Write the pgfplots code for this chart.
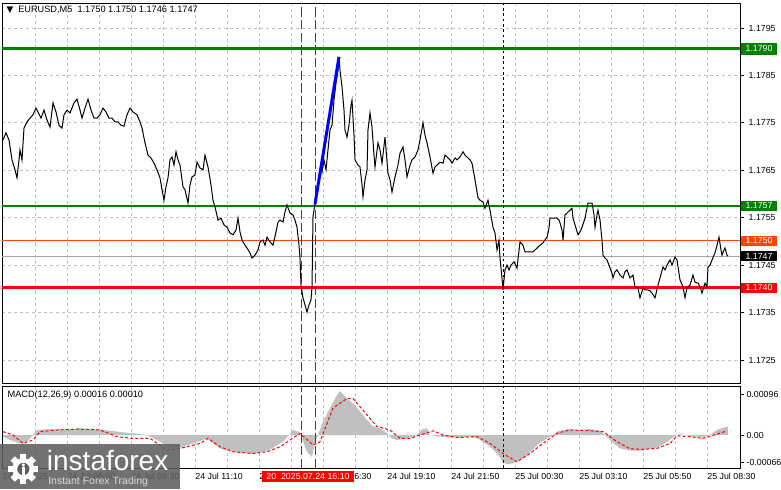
\documentclass[border=0pt]{standalone}
\usepackage{fontspec}
\setmainfont{Liberation Sans}
\newfontfamily\dejavu{DejaVu Sans}
\usepackage{pgfplots}
\pgfplotsset{compat=1.18}
\definecolor{mtgreen}{RGB}{0,128,0}
\definecolor{mtorange}{RGB}{255,69,0}
\definecolor{gridgray}{RGB}{192,192,192}
\definecolor{histgray}{RGB}{192,192,192}
\definecolor{logogray}{RGB}{95,95,95}
\newcommand{\sm}{\fontsize{6.6}{7.5}\selectfont}
\pgfplotsset{
  mtaxis/.style={
    scale only axis, width=553.5pt, xmin=2, xmax=740, anchor=south west,
    axis line style={black, line width=0.75pt},
    tick style={black, line width=0.6pt},
    xtick={35.7,67.7,99.7,131.7,163.7,195.7,227.7,259.7,291.7,323.7,355.7,387.7,419.7,451.7,483.7,515.7,547.7,579.7,611.7,643.7,675.7,707.7},
    xticklabels={}, xtick style={draw=none},
    ytick pos=right, yticklabel pos=right, tick align=outside, major tick length=3pt,
    ticklabel style={font=\sm},
    scaled y ticks=false, clip mode=individual,
  }
}
\begin{document}
\begin{tikzpicture}
\path[use as bounding box, fill=white] (0,0) rectangle (585.75pt,366.75pt);
% ---------------- main price panel
\begin{axis}[mtaxis, at={(1.5pt,78.75pt)}, height=285.75pt,
  ymin=1.171994, ymax=1.180027,
  ytick={1.1725,1.1735,1.1745,1.1755,1.1765,1.1775,1.1785,1.1795},
  yticklabels={1.1725,1.1735,1.1745,1.1755,1.1765,1.1775,1.1785,1.1795},
  grid=major, grid style={gridgray, line width=0.6pt, dash pattern=on 2.25pt off 2.25pt},
]
% level lines
\addplot[mtgreen, line width=2.4pt] coordinates {(2,1.17906)(740,1.17906)};
\addplot[mtgreen, line width=1.8pt] coordinates {(2,1.17575)(740,1.17575)};
\addplot[gray!70, line width=0.75pt] coordinates {(2,1.17469)(740,1.17469)};
\addplot[mtorange, line width=0.75pt] coordinates {(2,1.17501)(740,1.17501)};
\addplot[red, line width=2.25pt] coordinates {(2,1.17402)(740,1.17402)};
% vertical markers
\addplot[red!85!black, line width=0.75pt, dash pattern=on 7pt off 2.5pt] coordinates {(301,1.171994)(301,1.180027)};
\addplot[red!85!black, line width=0.75pt, dash pattern=on 7pt off 2.5pt] coordinates {(315,1.171994)(315,1.180027)};
\addplot[black, line width=0.75pt, dash pattern=on 2pt off 2pt] coordinates {(503,1.171994)(503,1.180027)};
% price
\addplot[black, line width=0.75pt] coordinates {
(3,1.17714)(6,1.17729)(9,1.17714)(12,1.17672)(15,1.17651)(17,1.17634)(19,1.17672)(20,1.17693)(22,1.17672)(24,1.17739)(27,1.17752)(30,1.17760)(33,1.17767)(36,1.17781)(38,1.17773)(41,1.17760)(44,1.17777)(47,1.17756)(50,1.17741)(53,1.17792)(56,1.17773)(59,1.17745)(62,1.17739)(64,1.17767)(67,1.17777)(70,1.17771)(74,1.17792)(77,1.17800)(80,1.17777)(82,1.17760)(85,1.17781)(88,1.17800)(91,1.17777)(94,1.17760)(97,1.17760)(100,1.17767)(103,1.17781)(106,1.17773)(109,1.17760)(112,1.17760)(115,1.17752)(118,1.17752)(121,1.17745)(124,1.17743)(127,1.17767)(130,1.17781)(133,1.17773)(137,1.17767)(140,1.17752)(142,1.17739)(145,1.17708)(148,1.17682)(151,1.17676)(154,1.17665)(157,1.17651)(160,1.17634)(162,1.17609)(164,1.17587)(166,1.17615)(168,1.17634)(170,1.17672)(172,1.17678)(174,1.17661)(176,1.17689)(178,1.17672)(180,1.17661)(183,1.17615)(185,1.17609)(188,1.17581)(190,1.17619)(192,1.17636)(195,1.17640)(197,1.17667)(200,1.17655)(203,1.17651)(205,1.17682)(208,1.17657)(211,1.17619)(213,1.17587)(215,1.17573)(218,1.17545)(221,1.17549)(224,1.17535)(227,1.17530)(230,1.17518)(233,1.17514)(236,1.17524)(238,1.17549)(240,1.17520)(242,1.17503)(245,1.17492)(247,1.17486)(250,1.17476)(252,1.17465)(255,1.17471)(258,1.17482)(260,1.17499)(263,1.17503)(265,1.17492)(267,1.17509)(270,1.17499)(273,1.17492)(276,1.17520)(278,1.17541)(280,1.17545)(283,1.17541)(285,1.17562)(287,1.17577)(290,1.17560)(293,1.17556)(295,1.17545)(297,1.17530)(299,1.17492)(300,1.17465)(301,1.17408)(303,1.17381)(305,1.17366)(307,1.17351)(309,1.17366)(311,1.17377)(312,1.17404)(313,1.17552)(315,1.17581)(317,1.17598)(319,1.17630)(321,1.17661)(322,1.17646)(324,1.17672)(326,1.17651)(328,1.17693)(330,1.17735)(332,1.17745)(334,1.17798)(336,1.17834)(338,1.17861)(339,1.17889)(340,1.17861)(342,1.17826)(344,1.17777)(345,1.17735)(347,1.17720)(349,1.17745)(351,1.17787)(352,1.17798)(354,1.17724)(355,1.17672)(358,1.17661)(360,1.17657)(362,1.17619)(363,1.17594)(365,1.17630)(367,1.17651)(368,1.17735)(370,1.17771)(372,1.17741)(374,1.17682)(375,1.17657)(378,1.17708)(380,1.17693)(382,1.17665)(385,1.17720)(388,1.17644)(390,1.17630)(392,1.17604)(395,1.17636)(398,1.17661)(400,1.17686)(403,1.17699)(405,1.17672)(407,1.17636)(410,1.17661)(412,1.17672)(415,1.17678)(418,1.17693)(420,1.17714)(423,1.17750)(425,1.17724)(427,1.17708)(430,1.17678)(433,1.17644)(435,1.17657)(437,1.17661)(440,1.17667)(443,1.17665)(445,1.17682)(447,1.17678)(450,1.17672)(452,1.17665)(455,1.17676)(457,1.17672)(460,1.17678)(463,1.17689)(465,1.17682)(468,1.17676)(470,1.17672)(472,1.17665)(475,1.17630)(478,1.17592)(480,1.17587)(483,1.17583)(485,1.17570)(488,1.17587)(490,1.17566)(493,1.17530)(495,1.17518)(497,1.17482)(499,1.17503)(500,1.17465)(502,1.17423)(503,1.17398)(505,1.17440)(507,1.17450)(509,1.17440)(511,1.17450)(514,1.17457)(517,1.17444)(520,1.17499)(523,1.17492)(525,1.17478)(528,1.17478)(531,1.17478)(533,1.17478)(535,1.17482)(537,1.17486)(540,1.17492)(543,1.17497)(545,1.17503)(547,1.17509)(549,1.17528)(550,1.17549)(553,1.17549)(557,1.17549)(559,1.17545)(560,1.17539)(562,1.17524)(563,1.17503)(565,1.17556)(567,1.17560)(570,1.17566)(572,1.17570)(573,1.17549)(575,1.17535)(578,1.17514)(580,1.17520)(582,1.17530)(585,1.17549)(588,1.17581)(590,1.17581)(592,1.17581)(594,1.17556)(595,1.17530)(597,1.17556)(598,1.17566)(600,1.17545)(602,1.17503)(603,1.17471)(605,1.17465)(607,1.17461)(610,1.17444)(612,1.17433)(613,1.17423)(615,1.17436)(617,1.17440)(620,1.17429)(623,1.17423)(625,1.17436)(627,1.17440)(630,1.17423)(633,1.17429)(635,1.17404)(638,1.17402)(640,1.17381)(643,1.17402)(645,1.17398)(647,1.17398)(650,1.17396)(652,1.17391)(655,1.17381)(658,1.17408)(660,1.17423)(663,1.17446)(665,1.17440)(667,1.17450)(670,1.17461)(672,1.17450)(675,1.17467)(677,1.17461)(680,1.17419)(683,1.17404)(685,1.17381)(687,1.17402)(690,1.17408)(693,1.17429)(695,1.17414)(698,1.17412)(700,1.17404)(702,1.17391)(705,1.17412)(707,1.17404)(708,1.17446)(710,1.17450)(712,1.17461)(715,1.17476)(717,1.17492)(719,1.17509)(721,1.17482)(722,1.17471)(724,1.17482)(725,1.17486)(727,1.17471)(728,1.17469)
};
% blue trend segment
\addplot[blue, line width=2.25pt] coordinates {(315,1.17579)(339,1.17889)};
% right-side price labels
\node[anchor=west, fill=mtgreen, text=white, font=\sm, minimum width=27pt, minimum height=8.5pt, inner sep=0pt] at (axis cs:740.8,1.17906) {1.1790};
\node[anchor=west, fill=mtgreen, text=white, font=\sm, minimum width=27pt, minimum height=8pt, inner sep=0pt] at (axis cs:740.8,1.17575) {1.1757};
\node[anchor=west, fill=mtorange, text=white, font=\sm, minimum width=27pt, minimum height=8pt, inner sep=0pt] at (axis cs:740.8,1.17501) {1.1750};
\node[anchor=west, fill=black, text=white, font=\sm, minimum width=27pt, minimum height=8pt, inner sep=0pt] at (axis cs:740.8,1.17469) {1.1747};
\node[anchor=west, fill=red, text=white, font=\sm, minimum width=27pt, minimum height=8pt, inner sep=0pt] at (axis cs:740.8,1.17402) {1.1740};
\end{axis}
% ---------------- MACD panel
\begin{axis}[mtaxis, at={(1.5pt,15.75pt)}, height=61.5pt,
  ymin=-0.000786, ymax=0.001167,
  ytick={-0.00066,0,0.00096},
  yticklabels={-0.00066,0.00,0.00096},
  yticklabel style={xshift=-1.6pt},
  xmajorgrids, grid style={gridgray, line width=0.6pt, dash pattern=on 2.25pt off 2.25pt},
]
\addplot[fill=histgray, draw=none] coordinates {
(3,0)(3,-0.00004)(10,-0.00012)(20,-0.00020)(27,-0.00016)(33,0)(37,0.00012)(50,0.00014)(67,0.00013)(80,0.00016)(100,0.00013)(117,0.00008)(133,0.00004)(147,0)(157,-0.00012)(167,-0.00026)(180,-0.00030)(193,-0.00020)(207,-0.00008)(220,-0.00032)(233,-0.00040)(253,-0.00045)(267,-0.00038)(283,-0.00016)(289,0)(293,0.00012)(298,0.00008)(302,-0.00008)(307,-0.00040)(312,-0.00052)(315,-0.00016)(318,0)(323,0.00032)(330,0.00064)(337,0.00095)(340,0.00105)(347,0.00087)(353,0.00075)(360,0.00056)(367,0.00036)(373,0.00020)(380,0.00016)(387,0.00004)(392,-0.00008)(397,-0.00012)(407,-0.00008)(417,0)(422,0.00013)(427,0.00016)(430,0)(440,-0.00004)(457,-0.00006)(470,-0.00004)(478,-0.00008)(490,-0.00028)(497,-0.00044)(503,-0.00064)(507,-0.00070)(513,-0.00067)(520,-0.00060)(527,-0.00048)(537,-0.00024)(547,-0.00008)(553,0)(557,0.00008)(567,0.00014)(580,0.00012)(590,0.00014)(600,0.00010)(605,0)(612,-0.00016)(620,-0.00032)(630,-0.00037)(643,-0.00037)(657,-0.00030)(667,-0.00017)(675,-0.00002)(680,0.00002)(690,-0.00002)(703,-0.00006)(710,0)(717,0.00012)(723,0.00017)(728,0.00020)(728,0)
};
\addplot[red, line width=0.75pt, dash pattern=on 2.2pt off 1.6pt] coordinates {
(3,0.00008)(13,0)(23,-0.00020)(33,-0.00012)(40,0.00008)(57,0.00012)(77,0.00014)(100,0.00012)(117,-0.00004)(133,-0.00008)(150,-0.00008)(167,-0.00036)(180,-0.00032)(200,-0.00020)(208,-0.00008)(220,-0.00028)(233,-0.00040)(253,-0.00044)(267,-0.00040)(280,-0.00028)(290,-0.00012)(300,0.00004)(313,-0.00024)(320,-0.00016)(333,0.00064)(347,0.00087)(353,0.00087)(367,0.00048)(377,0.00020)(390,0.00012)(400,-0.00008)(410,-0.00008)(420,0)(433,0.00010)(443,0)(457,-0.00006)(477,-0.00004)(490,-0.00020)(503,-0.00044)(517,-0.00064)(530,-0.00044)(543,-0.00020)(557,0.00004)(570,0.00012)(590,0.00010)(603,0.00008)(617,-0.00016)(630,-0.00033)(643,-0.00034)(657,-0.00032)(670,-0.00020)(677,-0.00002)(690,-0.00004)(703,-0.00008)(717,0.00002)(727,0.00010)
};
\addplot[red!85!black, line width=0.75pt, dash pattern=on 7pt off 2.5pt] coordinates {(301,-0.000786)(301,0.001167)};
\addplot[red!85!black, line width=0.75pt, dash pattern=on 7pt off 2.5pt] coordinates {(315,-0.000786)(315,0.001167)};
\addplot[black, line width=0.75pt, dash pattern=on 2pt off 2pt] coordinates {(503,-0.000786)(503,0.001167)};
\end{axis}
% ---------------- texts
\node[anchor=west, inner sep=0pt, font=\dejavu\fontsize{6.5}{7}\selectfont] at (4.8pt,359.0pt) {▼};
\node[anchor=west, inner sep=0pt, font=\fontsize{6.9}{8}\selectfont] at (13.5pt,359.25pt) {EURUSD,M5\ \ 1.1750 1.1750 1.1746 1.1747};
\node[anchor=west, inner sep=0pt, font=\fontsize{6.9}{8}\selectfont] at (5.5pt,70.5pt) {MACD(12,26,9) 0.00016 0.00010};
% time axis labels
\foreach \xx/\lab in {2.5/24 Jul 2025, 67.2/24 Jul 05:50, 131.2/24 Jul 08:30, 195.2/24 Jul 11:10, 259.2/24 Jul 13:50, 323.2/24 Jul 16:30, 387.2/24 Jul 19:10, 451.2/24 Jul 21:50, 515.2/25 Jul 00:30, 579.2/25 Jul 03:10, 643.2/25 Jul 05:50, 707.2/25 Jul 08:30}
  \node[anchor=west, inner sep=0pt, font=\sm] at (\xx*0.75pt,9.2pt) {\lab};
\node[fill=red, text=white, font=\sm, inner sep=0pt, minimum width=69pt, minimum height=8.3pt] at (231pt,9.3pt) {20\ \ 2025.07.24 16:10};
% logo
\fill[logogray, opacity=0.88] (0,0) rectangle (135pt,33.5pt);
\begin{scope}[shift={(17.5pt,15pt)}]
  \foreach \a in {0,45,...,315}
    \fill[white, rotate=\a] (-2.3pt,6pt) rectangle (2.3pt,11.2pt);
  \fill[white] (0,0) circle (8.2pt);
  \fill[logogray] (0,0) circle (4.6pt);
  \fill[white] (-1.3pt,-4.6pt) rectangle (1.3pt,1.4pt);
  \fill[white] (0,3pt) circle (1.3pt);
\end{scope}
\node[anchor=base west, inner sep=0pt, text=white, font=\fontsize{21}{22}\selectfont] at (35pt,13.6pt) {instaforex};
\node[anchor=base west, inner sep=0pt, text=white!85!black, font=\fontsize{7.9}{9}\selectfont] at (36pt,3.2pt) {Instant Forex Trading};
\end{tikzpicture}
\end{document}
